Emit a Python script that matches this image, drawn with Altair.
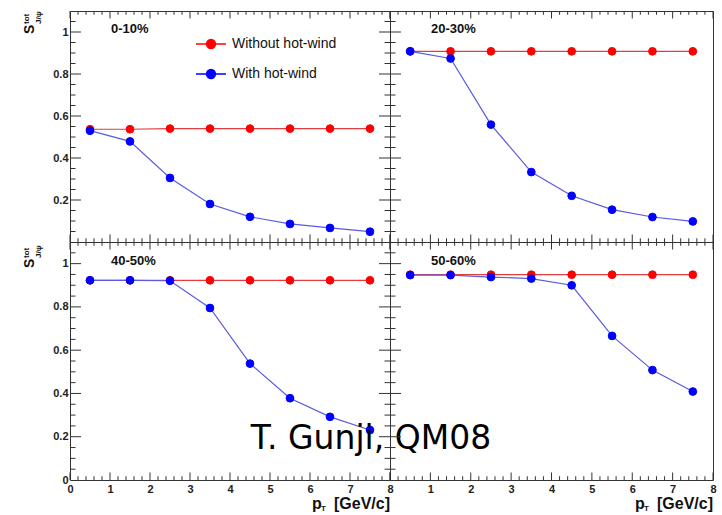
import altair as alt
import pandas as pd

# ---------------- data ----------------
pt = [0.5, 1.5, 2.5, 3.5, 4.5, 5.5, 6.5, 7.5]
series_names = ["Without hot-wind", "With hot-wind"]
centrality = ["0-10%", "20-30%", "40-50%", "50-60%"]

without_0_10 = [0.537, 0.537, 0.540, 0.540, 0.540, 0.540, 0.540, 0.540]
with_0_10 = [0.530, 0.479, 0.305, 0.181, 0.120, 0.086, 0.067, 0.049]

without_20_30 = [0.908, 0.908, 0.908, 0.908, 0.908, 0.908, 0.908, 0.908]
with_20_30 = [0.908, 0.874, 0.559, 0.333, 0.220, 0.154, 0.119, 0.098]

without_40_50 = [0.923, 0.923, 0.923, 0.923, 0.923, 0.923, 0.923, 0.923]
with_40_50 = [0.923, 0.923, 0.921, 0.795, 0.538, 0.378, 0.292, 0.231]

without_50_60 = [0.949, 0.949, 0.949, 0.949, 0.949, 0.949, 0.949, 0.949]
with_50_60 = [0.947, 0.947, 0.938, 0.931, 0.900, 0.666, 0.508, 0.409]

x_major = [0, 1, 2, 3, 4, 5, 6, 7, 8]
x_minor = [round(i * 0.2, 2) for i in range(41) if i % 5]
y_major = [0.2, 0.4, 0.6, 0.8, 1.0]
y_minor = [round(i * 0.05, 2) for i in range(1, 22) if i % 4]

x_labels_left = [0, 1, 2, 3, 4, 5, 6, 7, 8]
x_labels_right = [1, 2, 3, 4, 5, 6, 7, 8]
y_labels_top = [0.2, 0.4, 0.6, 0.8, 1.0]
y_labels_bottom = [0, 0.2, 0.4, 0.6, 0.8, 1.0]

# ---------------- style ----------------
FONT = "Liberation Sans"
TICK = "#333333"
marker_colors = ["#ff0000", "#0000ff"]
line_colors = ["#e23c3c", "#5a5ae2"]
LEG_SYMBOL = "M-3,0L3,0M-0.9,0A0.9,0.9,0,1,1,0.9,0A0.9,0.9,0,1,1,-0.9,0Z"


def text_layer(txt, **kw):
    enc = {k: v for k, v in kw.items() if k in ("x", "y")}
    mk = {k: v for k, v in kw.items() if k not in ("x", "y")}
    return alt.Chart(pd.DataFrame({"t": [txt]})).mark_text(**mk).encode(
        text="t:N", x=alt.value(enc["x"]), y=alt.value(enc["y"]))


def make_panel(label, without, with_, w, h, xlab, ylab, right_col, legend, bottom_row):
    df = pd.DataFrame({
        "pt": pt * 2,
        "S": without + with_,
        "series": [series_names[0]] * 8 + [series_names[1]] * 8,
    })
    xs = alt.Scale(domain=[0, 8], nice=False, zero=False)
    ys = alt.Scale(domain=[0, 1.1], nice=False, zero=False)
    xaxis = None
    if xlab:
        xaxis = alt.Axis(values=xlab, ticks=False, tickSize=0, domain=False, grid=False,
                         labelFont=FONT, labelFontSize=11, labelFontWeight="bold",
                         labelColor="#222222", labelPadding=3, labelFlush=False,
                         labelOverlap=False, format="~g")
    yaxis = None
    if ylab:
        yaxis = alt.Axis(values=ylab, ticks=False, tickSize=0, domain=False, grid=False,
                         labelFont=FONT, labelFontSize=11, labelFontWeight="bold",
                         labelColor="#222222", labelPadding=2, labelFlush=False,
                         labelOverlap=False, format="~g")

    def X(f):
        return alt.X(f, scale=xs, axis=xaxis, title=None)

    def Y(f):
        return alt.Y(f, scale=ys, axis=yaxis, title=None)

    leg = None
    if legend:
        leg = alt.Legend(orient="none", legendX=134, legendY=26, title=None,
                         symbolType=LEG_SYMBOL, symbolSize=100, symbolStrokeWidth=1.3,
                         labelFont=FONT, labelFontSize=14, labelColor="#111111",
                         labelOffset=14, rowPadding=14, padding=0)
    fill = alt.Fill("series:N", scale=alt.Scale(domain=series_names, range=marker_colors), legend=leg)
    stroke = alt.Stroke("series:N", scale=alt.Scale(domain=series_names, range=marker_colors), legend=leg)

    base = alt.Chart(df)
    layers = []
    for s, lc in zip(series_names, line_colors):
        d = base.transform_filter(alt.datum.series == s)
        layers.append(d.mark_line(color=lc, strokeWidth=1.2).encode(x=X("pt:Q"), y=Y("S:Q")))
        layers.append(d.mark_point(filled=True, size=60, strokeWidth=1, opacity=1).encode(
            x=X("pt:Q"), y=Y("S:Q"), fill=fill, stroke=stroke))

    # inward ROOT-style ticks
    ymaj = alt.Chart(pd.DataFrame({"v": y_major}))
    ymin = alt.Chart(pd.DataFrame({"v": y_minor}))
    xmaj = alt.Chart(pd.DataFrame({"v": x_major}))
    xmin = alt.Chart(pd.DataFrame({"v": x_minor}))
    yl0 = -11 if right_col else 0
    yl0m = -5.5 if right_col else 0
    ticks = [
        ymaj.mark_rule(color=TICK, strokeWidth=1).encode(y=Y("v:Q"), x=alt.value(yl0), x2=alt.value(11)),
        ymin.mark_rule(color=TICK, strokeWidth=1).encode(y=Y("v:Q"), x=alt.value(yl0m), x2=alt.value(5.5)),
        xmaj.mark_rule(color=TICK, strokeWidth=1).encode(x=X("v:Q"), y=alt.value(h), y2=alt.value(h - 7.5)),
        xmin.mark_rule(color=TICK, strokeWidth=1).encode(x=X("v:Q"), y=alt.value(h), y2=alt.value(h - 3.75)),
        xmaj.mark_rule(color=TICK, strokeWidth=1).encode(x=X("v:Q"), y=alt.value(0), y2=alt.value(7.5)),
        xmin.mark_rule(color=TICK, strokeWidth=1).encode(x=X("v:Q"), y=alt.value(0), y2=alt.value(3.75)),
    ]

    texts = [text_layer(label, x=41, y=19 if bottom_row else 18, align="left", baseline="middle",
                        font=FONT, fontSize=13, fontWeight="bold", color="#111111")]
    if not right_col:
        s0 = 26 if bottom_row else 23
        texts += [
            text_layer("S", x=-36, y=s0, angle=270, align="left", baseline="alphabetic",
                       font=FONT, fontSize=14, fontWeight="bold", color="#111111"),
            text_layer("tot", x=-41, y=s0 - 10, angle=270, align="left", baseline="alphabetic",
                       font=FONT, fontSize=8, fontWeight="bold", color="#111111"),
            text_layer("J/\u03c8", x=-29, y=s0 - 10, angle=270, align="left", baseline="alphabetic",
                       font=FONT, fontSize=8, fontWeight="bold", color="#111111"),
        ]
    if bottom_row:
        texts += [
            text_layer("[GeV/c]", x=w, y=h + 24, align="right", baseline="middle",
                       font=FONT, fontSize=16, fontWeight="bold", color="#111111"),
            text_layer("p", x=w - 78, y=h + 24, align="left", baseline="middle",
                       font=FONT, fontSize=16, fontWeight="bold", color="#111111"),
            text_layer("T", x=w - 69, y=h + 29, align="left", baseline="middle",
                       font=FONT, fontSize=8, fontWeight="bold", color="#111111"),
        ]
    return alt.layer(*ticks, *layers, *texts).properties(width=w, height=h)


p1 = make_panel(centrality[0], without_0_10, with_0_10, 320, 231, None, y_labels_top, False, True, False)
p2 = make_panel(centrality[1], without_20_30, with_20_30, 323, 231, None, None, True, False, False)
p3 = make_panel(centrality[2], without_40_50, with_40_50, 320, 238, x_labels_left, y_labels_bottom, False, False, True)
p4 = make_panel(centrality[3], without_50_60, with_50_60, 323, 238, x_labels_right, None, True, False, True)

gunji = text_layer("T. Gunji, QM08", x=301, y=207, align="center", baseline="alphabetic",
                   font="DejaVu Sans", fontSize=33, color="#000000")
p3 = alt.layer(p3, gunji)

chart = alt.concat(p1, p2, p3, p4, columns=2, spacing=0, bounds="flush").resolve_scale(
    fill="independent", stroke="independent"
).configure_view(stroke="#333333", strokeWidth=1).properties(
    padding={"left": 22, "top": 10, "right": 0, "bottom": 0}, background="white"
)

chart.save("out.html", embed_options={"renderer": "svg", "actions": False})
